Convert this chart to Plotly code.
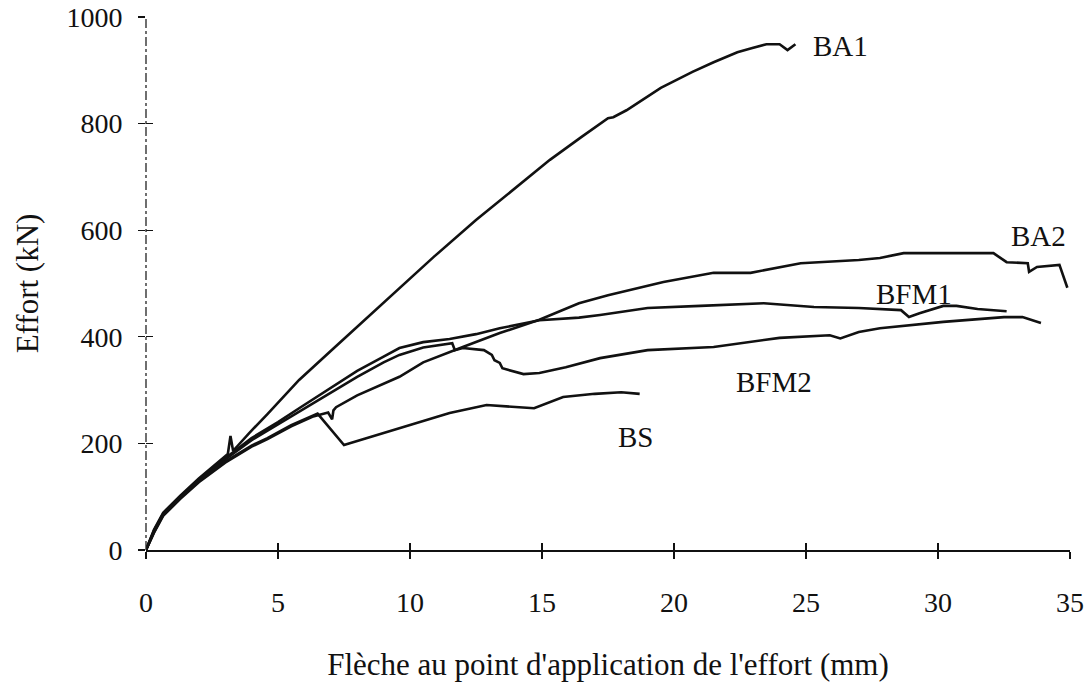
import plotly.graph_objects as go

# ---- data (deflection mm, load kN) ----
ba1_x = [0, 0.3, 0.65, 1.3, 2.0, 2.8, 3.1, 3.2, 3.3, 3.5, 3.9, 4.6, 5.8, 7.1, 8.75, 10.9, 12.5, 15.3, 16.5, 17.5, 17.7, 18.2, 19.5, 20.7, 21.5, 22.4, 22.9, 23.5, 24.0, 24.3, 24.6]
ba1_y = [0, 38, 70, 102, 134, 168, 180, 214, 186, 197, 219, 255, 319, 378, 452, 550, 619, 732, 775, 810, 812, 825, 867, 897, 915, 934, 941, 949, 949, 938, 949]

ba2_x = [0, 0.3, 0.65, 1.3, 2.0, 3.0, 4.0, 4.6, 5.5, 6.3, 6.9, 7.05, 7.1, 7.2, 8.0, 9.6, 10.5, 11.5, 12.0, 13.4, 14.9, 16.4, 17.5, 19.6, 21.5, 22.9, 24.8, 27.0, 27.8, 28.7, 30.0, 32.1, 32.6, 33.4, 33.45, 33.75, 34.6, 34.9]
ba2_y = [0, 32, 64, 96, 127, 164, 194, 208, 232, 250, 258, 245, 262, 268, 290, 325, 352, 372, 381, 407, 432, 463, 478, 503, 520, 520, 538, 544, 548, 557, 557, 557, 540, 538, 522, 531, 535, 492]

bfm1_x = [0, 0.3, 0.65, 1.3, 2.0, 3.0, 4.0, 5.0, 5.8, 7.1, 8.0, 9.0, 9.6, 10.5, 11.5, 12.5, 13.4, 14.9, 16.4, 17.2, 19.0, 21.0, 23.4, 25.3, 27.0, 28.6, 28.9, 29.3, 30.2, 30.7, 31.5, 32.6]
bfm1_y = [0, 36, 68, 100, 132, 172, 210, 240, 266, 308, 336, 363, 379, 390, 396, 405, 416, 431, 436, 441, 454, 458, 463, 456, 454, 450, 437, 444, 458, 458, 452, 448]

bfm2_x = [0, 0.3, 0.65, 1.3, 2.0, 3.0, 4.0, 5.0, 5.8, 7.1, 8.0, 9.0, 9.6, 10.5, 11.5, 11.6, 11.7, 12.0, 12.8, 13.1, 13.2, 13.4, 13.5, 13.9, 14.3, 14.9, 15.9, 17.2, 19.0, 21.5, 24.0, 25.9, 26.3, 27.0, 27.8, 30.2, 32.5, 33.2, 33.9]
bfm2_y = [0, 35, 67, 99, 131, 170, 206, 236, 260, 298, 325, 352, 366, 380, 386, 388, 375, 379, 375, 366, 356, 351, 341, 336, 330, 332, 343, 360, 375, 381, 398, 403, 397, 409, 416, 428, 437, 437, 426]

bs_x = [0, 0.3, 0.65, 1.3, 2.0, 3.0, 4.0, 4.6, 5.5, 6.3, 6.5, 7.5, 8.5, 9.6, 10.4, 11.5, 12.9, 14.2, 14.7, 15.8, 17.0, 18.0, 18.7]
bs_y = [0, 33, 66, 98, 129, 166, 196, 210, 234, 252, 256, 197, 212, 228, 240, 257, 272, 268, 266, 287, 293, 296, 293]

series_names = ["BA1", "BA2", "BFM1", "BFM2", "BS"]
label_x = [26.3, 33.8, 29.1, 23.8, 18.56]
label_y = [946, 589, 480, 315, 212]

x_ticks = [0, 5, 10, 15, 20, 25, 30, 35]
y_ticks = [0, 200, 400, 600, 800, 1000]

x_title = "Flèche au point d'application de l'effort (mm)"
y_title = "Effort (kN)"

FONT = "Liberation Serif, Times New Roman, serif"

fig = go.Figure()
for xs, ys, nm in zip([ba1_x, ba2_x, bfm1_x, bfm2_x, bs_x],
                      [ba1_y, ba2_y, bfm1_y, bfm2_y, bs_y], series_names):
    fig.add_trace(go.Scatter(x=xs, y=ys, mode="lines", name=nm,
                             line=dict(color="#111111", width=2.6),
                             showlegend=False, hoverinfo="skip"))

# invisible trace for the overlay axes (crossing ticks)
fig.add_trace(go.Scatter(x=[None], y=[None], xaxis="x2", yaxis="y2",
                         showlegend=False, hoverinfo="skip"))

for nm, lx, ly in zip(series_names, label_x, label_y):
    fig.add_annotation(x=lx, y=ly, text=nm, showarrow=False,
                       font=dict(family=FONT, size=29, color="#111111"))

fig.add_shape(type="line", xref="x domain", yref="y domain",
              x0=0, x1=0, y0=0, y1=1,
              line=dict(color="#222222", width=1.3, dash="dashdot"))

common_tick = dict(family=FONT, size=28, color="#111111")
title_font = dict(family=FONT, size=31, color="#111111")
fig.update_layout(
    width=1086, height=684,
    margin=dict(l=146, r=16, t=17, b=134),
    paper_bgcolor="white", plot_bgcolor="white",
    xaxis=dict(range=[0, 35], tickvals=x_ticks, ticks="outside", ticklen=7,
               tickwidth=1.3, tickcolor="#111111", showline=True,
               linecolor="#111111", linewidth=1.5, showgrid=False,
               zeroline=False, tickfont=common_tick, ticklabelstandoff=20,
               automargin=False,
               title=dict(text=x_title, font=title_font, standoff=36)),
    yaxis=dict(range=[0, 1000], tickvals=y_ticks, ticks="outside", ticklen=7,
               tickwidth=1.3, tickcolor="#111111", showline=False,
               showgrid=False, zeroline=False, tickfont=common_tick,
               ticklabelstandoff=10, automargin=False,
               title=dict(text=y_title, font=title_font, standoff=18)),
    xaxis2=dict(range=[0, 35], tickvals=x_ticks, ticks="inside", ticklen=7,
                tickwidth=1.3, tickcolor="#111111", overlaying="x",
                showticklabels=False, showgrid=False, zeroline=False,
                showline=False, side="bottom", automargin=False),
    yaxis2=dict(range=[0, 1000], tickvals=y_ticks, ticks="inside", ticklen=7,
                tickwidth=1.3, tickcolor="#111111", overlaying="y",
                showticklabels=False, showgrid=False, zeroline=False,
                showline=False, side="left", automargin=False),
)

fig.write_html("out.html",
               config={"displayModeBar": False, "staticPlot": True},
               post_script="document.body.style.margin='0';document.body.style.overflow='hidden';")
